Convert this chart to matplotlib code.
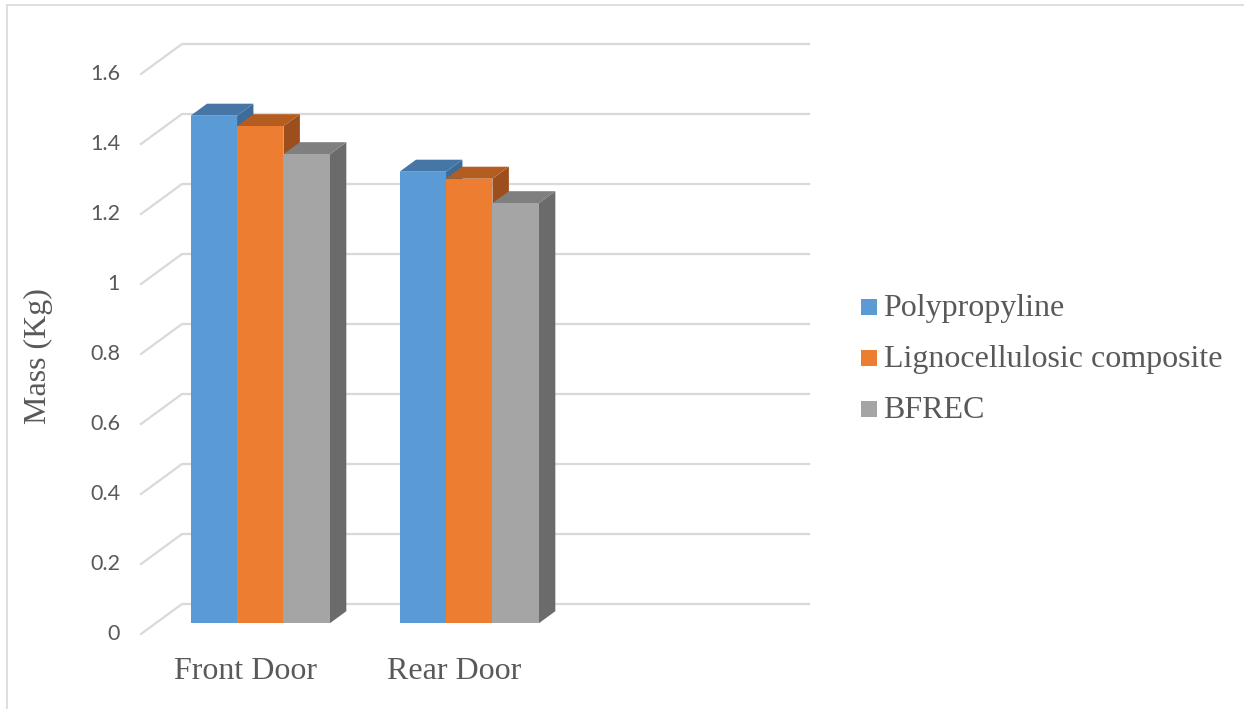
import matplotlib.pyplot as plt
from matplotlib.patches import Polygon, Rectangle
from matplotlib.lines import Line2D

# door panel masses (kg)
categories = ["Front Door", "Rear Door", ""]
series_names = ["Polypropyline", "Lignocellulosic composite", "BFREC"]
polypropyline = [1.45, 1.29]
lignocellulosic = [1.42, 1.27]
bfrec = [1.34, 1.20]
yticks = [0, 0.2, 0.4, 0.6, 0.8, 1.0, 1.2, 1.4, 1.6]
ytick_labels = ["0", "0.2", "0.4", "0.6", "0.8", "1", "1.2", "1.4", "1.6"]

front_colors = ["#5B9BD5", "#ED7D31", "#A5A5A5"]
top_colors = ["#4676A5", "#B55D21", "#7F7F7F"]
side_colors = ["#3D6C98", "#9C4F1C", "#6B6B6B"]
text_color = "#595959"
grid_color = "#D9D9D9"

W, H = 1244, 709
fig = plt.figure(figsize=(W / 100, H / 100), dpi=100)

# plot box in pixels: back wall 182..809, value 0 at 604, 1.6 at 44
wall_l, wall_r, wall_top, wall_bot = 182, 809, 44, 604
depth_px = (-41, 30)  # floor depth, left and down
ncat = len(categories)
px_x = (wall_r - wall_l) / ncat
px_y = (wall_bot - wall_top) / yticks[-1]
DX = depth_px[0] / px_x
DY = -depth_px[1] / px_y

ax_l = wall_l + depth_px[0]
ax_b = wall_bot + depth_px[1]
ax = fig.add_axes([ax_l / W, (H - ax_b) / H, (wall_r - ax_l) / W, (ax_b - wall_top) / H])
ax.set_xlim(DX, ncat)
ax.set_ylim(DY, yticks[-1])
ax.axis("off")


def shift(d):
    return DX * d, DY * d


# side wall + back wall gridlines
for v, lab in zip(yticks, ytick_labels):
    ax.plot([DX, 0, ncat], [v + DY, v, v], color=grid_color, lw=1.6, zorder=1,
            solid_joinstyle="miter", clip_on=False)
    ax.annotate(lab, xy=(DX, v + DY), xytext=(-15, 0), textcoords="offset points",
                ha="right", va="center", fontsize=15.5, family="Lato", color=text_color)

# 3d columns, gap width 150%
values = [polypropyline, lignocellulosic, bfrec]
nser = len(values)
bw = 1 / (nser + 1.5)
d_back, d_front = 0.24, 0.64
fx, fy = shift(d_front)
bx, by = shift(d_back)
z = 2
for i in range(len(polypropyline)):
    for j in range(nser):
        v = values[j][i]
        xl = i + 0.75 * bw + j * bw
        xr = xl + bw
        side = Polygon([(xr + fx, fy), (xr + bx, by), (xr + bx, v + by), (xr + fx, v + fy)],
                       closed=True, fc=side_colors[j], ec="none", zorder=z)
        top = Polygon([(xl + fx, v + fy), (xr + fx, v + fy), (xr + bx, v + by), (xl + bx, v + by)],
                      closed=True, fc=top_colors[j], ec="none", zorder=z)
        front = Rectangle((xl + fx, fy), bw, v, fc=front_colors[j], ec="none", zorder=z + 1)
        ax.add_patch(side)
        ax.add_patch(top)
        ax.add_patch(front)
        z += 2

# category labels along the front floor edge
for i, cat in enumerate(categories):
    if cat:
        ax.annotate(cat, xy=(i + 0.5 + DX, DY), xytext=(0, -27), textcoords="offset points",
                    ha="center", va="center", fontsize=23, family="Liberation Serif",
                    color=text_color)

fig.text(38 / W, 1 - 356 / H, "Mass (Kg)", rotation=90, ha="center", va="center",
         fontsize=23, family="Liberation Serif", color=text_color)

# legend
leg_x, leg_base, leg_step, sq = 861, 316, 51, 15.5
for j, name in enumerate(series_names):
    base = leg_base + j * leg_step
    fig.add_artist(Rectangle((leg_x / W, (H - base + 1.5) / H), sq / W, sq / H,
                             transform=fig.transFigure, fc=front_colors[j], ec="none"))
    fig.text((leg_x + sq + 7) / W, (H - base) / H, name, ha="left", va="baseline",
             fontsize=23, family="Liberation Serif", color=text_color)

# chart area border
fig.add_artist(Line2D([7 / W, 7 / W], [0, 1 - 5 / H], transform=fig.transFigure,
                      color=grid_color, lw=1.2))
fig.add_artist(Line2D([7 / W, 1], [1 - 5 / H, 1 - 5 / H], transform=fig.transFigure,
                      color=grid_color, lw=1.2))

fig.savefig("out.png", dpi=100)
